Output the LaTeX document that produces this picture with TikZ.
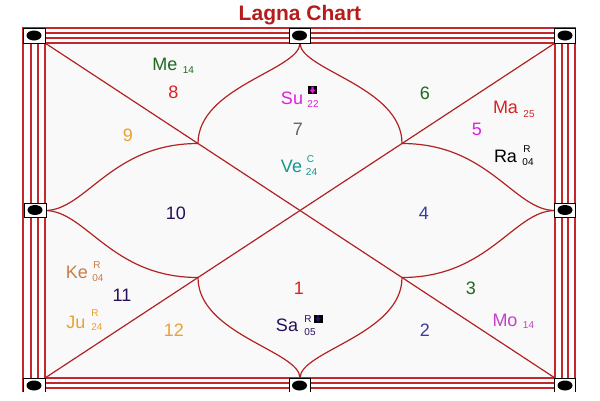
\documentclass[tikz,border=0pt]{standalone}
\usepackage{fontspec}
\setmainfont{Liberation Sans}
\definecolor{chartred}{RGB}{178,34,34}
\definecolor{borderred}{RGB}{196,40,44}
\definecolor{titlered}{RGB}{183,28,28}
\definecolor{bgfill}{RGB}{249,249,249}
\definecolor{cgreen}{RGB}{30,105,30}
\definecolor{cred}{RGB}{215,35,35}
\definecolor{corange}{RGB}{235,160,50}
\definecolor{cindigo}{RGB}{40,15,90}
\definecolor{cbrown}{RGB}{200,125,70}
\definecolor{cmagenta}{RGB}{225,30,225}
\definecolor{cgrey}{RGB}{100,100,100}
\definecolor{cteal}{RGB}{20,150,140}
\definecolor{cblue}{RGB}{55,60,160}
\definecolor{corchid}{RGB}{195,65,200}
\tikzset{
  lbl/.style={font=\fontsize{18}{18}\selectfont, inner sep=0pt},
  sub/.style={font=\fontsize{10}{10}\selectfont, inner sep=0pt},
  chartline/.style={draw=chartred, line width=1.2pt},
  borderline/.style={draw=borderred, line width=1.4pt},
  postbox/.style={draw=black, line width=0.9pt, fill=white, inner sep=0pt,
    minimum width=21pt, minimum height=15pt,
    path picture={\fill[black] (path picture bounding box.center) ellipse (7.5pt and 5pt);}},
  flag/.style={fill=black, inner sep=0pt, minimum width=9pt, minimum height=8pt,
    path picture={\fill[#1]
      ([shift={(-1.2pt,3.5pt)}]path picture bounding box.center) --
      ([shift={(1.2pt,3.5pt)}]path picture bounding box.center) --
      ([shift={(1.2pt,0.5pt)}]path picture bounding box.center) --
      ([shift={(3pt,0.5pt)}]path picture bounding box.center) --
      ([shift={(0pt,-3.5pt)}]path picture bounding box.center) --
      ([shift={(-3pt,0.5pt)}]path picture bounding box.center) --
      ([shift={(-1.2pt,0.5pt)}]path picture bounding box.center) -- cycle;}}
}
\begin{document}
\begin{tikzpicture}[x=1pt,y=-1pt]
\useasboundingbox (0,0) rectangle (600,400);
\clip (0,0) rectangle (600,400);
% inner area
\fill[bgfill] (45,43) rectangle (555,378);
% border lines
\draw[borderline] (23,28) rectangle (575,393);
\draw[borderline] (31,33) rectangle (568,388);
\draw[borderline] (38,38) rectangle (562,383);
\draw[borderline] (45,43) rectangle (555,378);
% key points
\coordinate (TL) at (45,43);
\coordinate (TR) at (555,43);
\coordinate (BL) at (45,378);
\coordinate (BR) at (555,378);
\coordinate (TM) at (300,43);
\coordinate (BM) at (300,378);
\coordinate (LM) at (45,210.5);
\coordinate (RM) at (555,210.5);
\coordinate (PTL) at (198,143.5);
\coordinate (PTR) at (402,143.5);
\coordinate (PBL) at (198,277.5);
\coordinate (PBR) at (402,277.5);
% diagonals
\draw[chartline] (TL) -- (BR);
\draw[chartline] (TR) -- (BL);
% curves
\draw[chartline] (TM) .. controls (300,70) and (198,86.5) .. (PTL);
\draw[chartline] (TM) .. controls (300,70) and (402,86.5) .. (PTR);
\draw[chartline] (BM) .. controls (300,351) and (198,334.5) .. (PBL);
\draw[chartline] (BM) .. controls (300,351) and (402,334.5) .. (PBR);
\draw[chartline] (LM) .. controls (86,210.5) and (111,143.5) .. (PTL);
\draw[chartline] (LM) .. controls (86,210.5) and (111,277.5) .. (PBL);
\draw[chartline] (RM) .. controls (514,210.5) and (489,143.5) .. (PTR);
\draw[chartline] (RM) .. controls (514,210.5) and (489,277.5) .. (PBR);
% boxes
\node[postbox, minimum width=22pt] (bTL) at (34,35.5) {};
\node[postbox] (bTM) at (299.5,35.5) {};
\node[postbox] (bTR) at (565,35.5) {};
\node[postbox, minimum width=22pt, minimum height=14pt] (bML) at (35,210) {};
\node[postbox, minimum height=14pt] (bMR) at (565,210) {};
\node[postbox, minimum width=22pt, minimum height=15pt] (bBL) at (34,385.5) {};
\node[postbox, minimum height=15pt] (bBM) at (299.5,385.5) {};
\node[postbox, minimum height=15pt] (bBR) at (565,385.5) {};
% white strip below the chart (cut off in the reference)
\fill[white] (0,392) rectangle (600,400);
% title
\node[font=\bfseries\fontsize{21}{21}\selectfont, text=titlered, inner sep=0pt, anchor=base] (title) at (300,20.5) {Lagna Chart};
% house numbers
\node[lbl, text=cred] (h1) at (299,288) {1};
\node[lbl, text=cblue] (h2) at (425,330.5) {2};
\node[lbl, text=cgreen] (h3) at (471,288) {3};
\node[lbl, text=cblue] (h4) at (424,213) {4};
\node[lbl, text=cmagenta] (h5) at (477,129) {5};
\node[lbl, text=cgreen] (h6) at (425,93) {6};
\node[lbl, text=cgrey] (h7) at (298,129) {7};
\node[lbl, text=cred] (h8) at (173.5,92.5) {8};
\node[lbl, text=corange] (h9) at (128,135) {9};
\node[lbl, text=cindigo] (h10) at (176,213) {10};
\node[lbl, text=cindigo] (h11) at (122,295) {11};
\node[lbl, text=corange] (h12) at (174,330.5) {12};
% planets
\node[lbl, text=cgreen] (me) at (165,64.5) {Me};
\node[sub, text=cgreen] (me14) at (188.5,70.5) {14};
\node[lbl, text=cmagenta] (su) at (292,98) {Su};
\node[flag=cmagenta] (suflag) at (312.5,90) {};
\node[sub, text=cmagenta] (su22) at (313,104) {22};
\node[lbl, text=cteal] (ve) at (291.5,166.5) {Ve};
\node[sub, text=cteal] (vec) at (310.5,159) {C};
\node[sub, text=cteal] (ve24) at (311.5,172) {24};
\node[lbl, text=cred] (ma) at (505.5,107) {Ma};
\node[sub, text=cred] (ma25) at (529,114) {25};
\node[lbl, text=black] (ra) at (505.5,156) {Ra};
\node[sub, text=black] (rar) at (527,149.5) {R};
\node[sub, text=black] (ra04) at (528,162.5) {04};
\node[lbl, text=cbrown] (ke) at (77,272) {Ke};
\node[sub, text=cbrown] (ker) at (97,265) {R};
\node[sub, text=cbrown] (ke04) at (98,278) {04};
\node[lbl, text=corange] (ju) at (76,322) {Ju};
\node[sub, text=corange] (jur) at (95,313) {R};
\node[sub, text=corange] (ju24) at (97,327) {24};
\node[lbl, text=corchid] (mo) at (505,320) {Mo};
\node[sub, text=corchid] (mo14) at (528.5,325.5) {14};
\node[lbl, text=cindigo] (sa) at (287,325) {Sa};
\node[sub, text=cindigo] (sar) at (308,319) {R};
\node[flag=cindigo] (saflag) at (318,318.5) {};
\node[sub, text=cindigo] (sa05) at (310,332) {05};
\end{tikzpicture}
\end{document}
